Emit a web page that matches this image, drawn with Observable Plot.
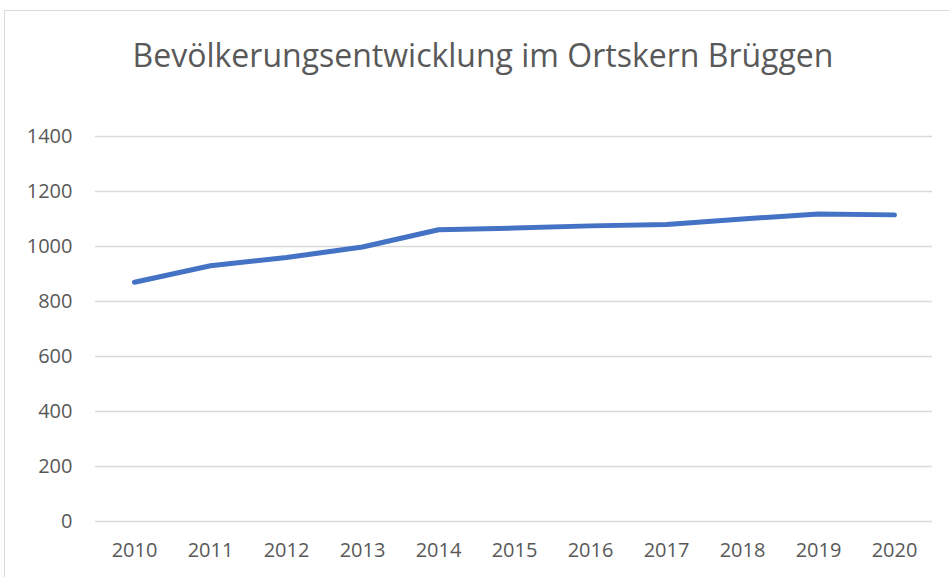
<!DOCTYPE html>
<html>
<head>
<meta charset="utf-8">
<script src="https://cdn.jsdelivr.net/npm/d3@7"></script>
<script src="https://cdn.jsdelivr.net/npm/@observablehq/plot@0.6"></script>
<style>
  html, body { margin: 0; padding: 0; background: #fff; }
  #wrap { position: relative; width: 949px; height: 577px; overflow: hidden; font-family: "Open Sans", sans-serif; }
  #frame { position: absolute; left: 4px; top: 10px; width: 1000px; height: 700px; border: 1.5px solid #d9d9d9; box-sizing: border-box; }
  #title { position: absolute; left: 0; top: 33px; width: 966px; text-align: center; font-size: 32px; color: #595959; line-height: 44px; white-space: nowrap; }
  #chart { position: absolute; left: 0; top: 0; }
</style>
</head>
<body>
<div id="wrap">
  <div id="frame"></div>
  <div id="title">Bevölkerungsentwicklung im Ortskern Brüggen</div>
  <div id="chart"></div>
</div>
<script>
const years = ["2010","2011","2012","2013","2014","2015","2016","2017","2018","2019","2020"];
const population = [870, 930, 960, 998, 1061, 1067, 1075, 1080, 1100, 1118, 1115];
const yTicks = [0, 200, 400, 600, 800, 1000, 1200, 1400];

const data = years.map((y, i) => ({year: y, value: population[i]}));

const plot = Plot.plot({
  width: 949,
  height: 577,
  marginLeft: 95,
  marginRight: 17,
  marginTop: 136,
  marginBottom: 56,
  style: {background: "transparent", fontFamily: "'Open Sans', sans-serif", fontSize: "20px", color: "#595959", overflow: "visible"},
  x: {type: "point", domain: years, padding: 0.5, label: null, tickSize: 0, tickPadding: 21},
  y: {domain: [0, 1400], ticks: yTicks, tickFormat: d => String(d), label: null, tickSize: 0, tickPadding: 23},
  marks: [
    Plot.gridY(yTicks, {stroke: "#d9d9d9", strokeOpacity: 1, strokeWidth: 1.5}),
    Plot.line(data, {x: "year", y: "value", stroke: "#4472C4", strokeWidth: 5, strokeLinecap: "round", strokeLinejoin: "round"})
  ]
});
document.getElementById("chart").appendChild(plot);
</script>
</body>
</html>
